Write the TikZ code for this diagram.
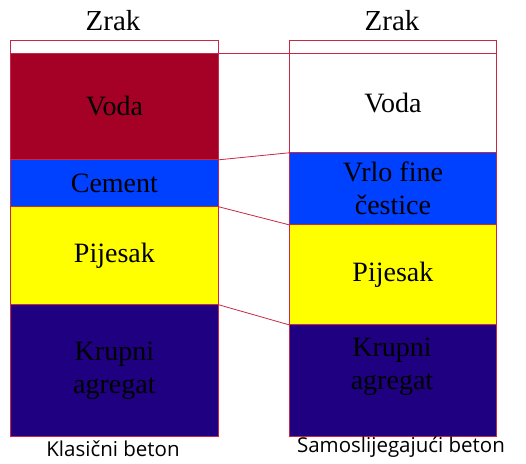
\documentclass[tikz,border=0pt]{standalone}
\usepackage{fontspec}
\setmainfont{Liberation Serif}
\newfontfamily\labelfont{Open Sans}
\definecolor{bord}{RGB}{200,40,70}
\definecolor{wine}{RGB}{165,0,38}
\definecolor{cemblue}{RGB}{0,64,255}
\definecolor{sand}{RGB}{255,255,0}
\definecolor{navy}{RGB}{30,0,128}
\tikzset{
  layer/.style={draw=bord, line width=0.8pt, rectangle, inner sep=0pt, anchor=north west,
    align=center, font=\fontsize{28}{33}\selectfont},
  link/.style={draw=bord, line width=0.8pt},
  caption/.style={font=\labelfont\fontsize{20.5}{24}\selectfont, inner sep=0pt},
  head/.style={font=\fontsize{29}{32}\selectfont, inner sep=0pt}
}
\begin{document}
\begin{tikzpicture}[x=1pt,y=-1pt]
\useasboundingbox (0,0) rectangle (526,463);
% left column
\node[layer, fill=white, minimum width=208pt, minimum height=13pt] (lzrak) at (10,40) {};
\node[layer, fill=wine, minimum width=208pt, minimum height=106pt] (lvoda) at (10,53) {Voda};
\node[layer, fill=cemblue, minimum width=208pt, minimum height=47pt] (lcem) at (10,159) {Cement};
\node[layer, fill=sand, minimum width=208pt, minimum height=98pt] (lpij) at (10,206) {Pijesak};
\node[layer, fill=navy, minimum width=208pt, minimum height=132pt] (lkru) at (10,304) {Krupni\\agregat};
% right column
\node[layer, fill=white, minimum width=207pt, minimum height=13pt] (rzrak) at (289,40) {};
\node[layer, fill=white, minimum width=207pt, minimum height=99pt] (rvoda) at (289,53) {Voda};
\node[layer, fill=cemblue, minimum width=207pt, minimum height=72pt] (rfine) at (289,152) {Vrlo fine\\čestice};
\node[layer, fill=sand, minimum width=207pt, minimum height=100pt] (rpij) at (289,224) {Pijesak};
\node[layer, fill=navy, minimum width=207pt, minimum height=112pt] (rkru) at (289,324) {};
\node[font=\fontsize{28}{33}\selectfont, align=center, inner sep=0pt] (rkrut) at (392,367) {Krupni\\agregat};
% headings
\node[head] (lhead) at (113,21) {Zrak};
\node[head] (rhead) at (392,21) {Zrak};
% links
\draw[link] (lzrak.south east) -- (rzrak.south west);
\draw[link] (lvoda.south east) -- (rvoda.south west);
\draw[link] (lcem.south east) -- (rfine.south west);
\draw[link] (lpij.south east) -- (rpij.south west);
% captions
\node[caption] (lcap) at (113,449) {Klasični beton};
\node[caption] (rcap) at (401,447) {Samoslijegajući beton};
\end{tikzpicture}
\end{document}
